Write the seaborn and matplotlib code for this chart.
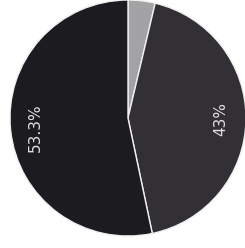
import matplotlib
matplotlib.use("Agg")
import matplotlib.pyplot as plt
import seaborn as sns

# data
shares = [3.7, 43.0, 53.3]
pct_labels = ["", "43%", "53.3%"]
colors = ["#a3a3a5", "#322f35", "#1c1b20"]

sns.set_theme(style="white")
plt.rcParams['font.family'] = ['DejaVu Sans']

fig = plt.figure(figsize=(2.45, 2.48), dpi=100)
ax = fig.add_axes([10 / 245, 12 / 248, 236 / 245, 236 / 248])

lab_iter = iter(pct_labels)
wedges, texts, autotexts = ax.pie(
    shares, colors=colors, startangle=90, counterclock=False,
    autopct=lambda p: next(lab_iter), pctdistance=0.79,
    wedgeprops=dict(edgecolor="#f0f0f0", linewidth=1.0),
    textprops=dict(color="#e2e2e2", fontsize=11, rotation=90),
)
ax.set_xlim(-1, 1)
ax.set_ylim(-1, 1)
ax.set_aspect("equal")
ax.axis("off")

fig.savefig("out.png", dpi=100)
